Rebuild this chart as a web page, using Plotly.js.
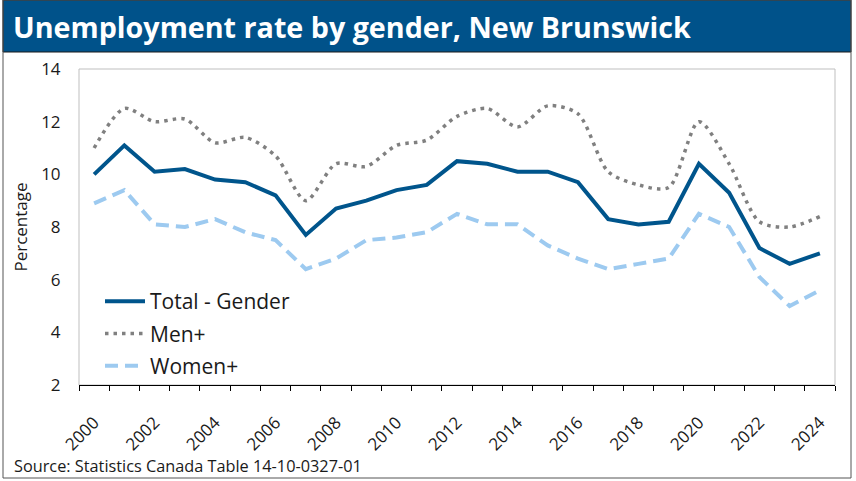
<!DOCTYPE html>
<html>
<head>
<meta charset="utf-8">
<script src="https://cdn.plot.ly/plotly-3.0.1.min.js"></script>
<style>html,body{margin:0;padding:0;background:#fff}#chart{width:856px;height:481px}</style>
</head>
<body>
<div id="chart"></div>
<script>
const years = [2000,2001,2002,2003,2004,2005,2006,2007,2008,2009,2010,2011,2012,2013,2014,2015,2016,2017,2018,2019,2020,2021,2022,2023,2024];
const totalGender = [10.0,11.1,10.1,10.2,9.8,9.7,9.2,7.7,8.7,9.0,9.4,9.6,10.5,10.4,10.1,10.1,9.7,8.3,8.1,8.2,10.4,9.3,7.2,6.6,7.0];
const menPlus = [11.0,12.5,12.0,12.1,11.2,11.4,10.7,9.0,10.4,10.3,11.1,11.3,12.2,12.5,11.8,12.6,12.3,10.1,9.6,9.5,12.0,10.4,8.2,8.0,8.4];
const womenPlus = [8.9,9.4,8.1,8.0,8.3,7.8,7.5,6.4,6.8,7.5,7.6,7.8,8.5,8.1,8.1,7.3,6.8,6.4,6.6,6.8,8.5,8.0,6.1,5.0,5.6];
const tickYears = [2000,2002,2004,2006,2008,2010,2012,2014,2016,2018,2020,2022,2024];
const seriesNames = ["Total - Gender","Men+","Women+"];
const chartTitle = "Unemployment rate by gender, New Brunswick";
const sourceText = "Source: Statistics Canada Table 14-10-0327-01";
const yTitle = "Percentage";

const FONT = '"Open Sans", "Noto Sans", sans-serif';
const L = 79, R = 835, T = 69, B = 385;
const W = R - L, H = B - T;
const px = x => (x - L) / W;
const py = y => (B - y) / H;

const traces = [
  {x: years, y: totalGender, name: seriesNames[0], legendgroup: 'g1', type: 'scatter', mode: 'lines',
   line: {color: '#00558C', width: 4}},
  {x: years, y: menPlus, name: seriesNames[1], legendgroup: 'g2', type: 'scatter', mode: 'lines',
   line: {color: '#808080', width: 3.5, dash: '3.5px,5px', shape: 'spline', smoothing: 0.8}},
  {x: years, y: womenPlus, name: seriesNames[2], legendgroup: 'g3', type: 'scatter', mode: 'lines',
   line: {color: '#9DCAF0', width: 4, dash: '13px,7px'}}
];

const layout = {
  width: 856, height: 481,
  margin: {l: L, r: 856 - R, t: T, b: 481 - B},
  paper_bgcolor: '#fff', plot_bgcolor: '#fff',
  font: {family: FONT, color: '#1a1a1a', size: 17},
  showlegend: true,
  legend: {x: px(100), y: py(281), xanchor: 'left', yanchor: 'top', itemwidth: 40,
    traceorder: 'grouped', tracegroupgap: 2,
    bgcolor: 'rgba(0,0,0,0)', font: {size: 21, color: '#1a1a1a'}},
  xaxis: {range: [1999.5, 2024.5], tickmode: 'array', tickvals: tickYears,
    ticktext: tickYears.map(String), tickangle: -45,
    ticks: 'outside', ticklen: 20, tickcolor: 'rgba(0,0,0,0)',
    showgrid: false, zeroline: false, showline: true, linecolor: '#000', linewidth: 1,
    tickfont: {size: 17, color: '#1a1a1a'},
    minor: {tickmode: 'linear', tick0: 1999.5, dtick: 1, ticks: 'outside', ticklen: 5, tickcolor: '#000', tickwidth: 1, showgrid: false}},
  yaxis: {range: [2, 14], dtick: 2, tick0: 2, showgrid: false, zeroline: false, showline: false,
    ticks: 'outside', ticklen: 14, tickcolor: 'rgba(0,0,0,0)',
    tickfont: {size: 17, color: '#1a1a1a'},
    title: {text: yTitle, font: {size: 17, color: '#1a1a1a'}, standoff: 9}},
  shapes: [
    {type: 'rect', xref: 'paper', yref: 'paper', x0: 0, x1: 1, y0: 0, y1: 1,
     line: {color: '#BFBFBF', width: 1}, fillcolor: 'rgba(0,0,0,0)', layer: 'below'},
    {type: 'rect', xref: 'paper', yref: 'paper', x0: px(3), x1: px(851), y0: py(478), y1: py(0),
     line: {color: '#555', width: 1}, fillcolor: 'rgba(0,0,0,0)'},
    {type: 'rect', xref: 'paper', yref: 'paper', x0: px(3), x1: px(851), y0: py(52), y1: py(0),
     line: {color: '#1a1a1a', width: 1}, fillcolor: '#00528A', layer: 'below'}
  ],
  annotations: [
    {text: '<b>' + chartTitle + '</b>', xref: 'paper', yref: 'paper', x: px(11), y: py(27),
     xanchor: 'left', yanchor: 'middle', showarrow: false, font: {size: 28.7, color: '#fff', family: FONT}},
    {text: sourceText, xref: 'paper', yref: 'paper', x: px(12), y: py(466),
     xanchor: 'left', yanchor: 'middle', showarrow: false, font: {size: 16.3, color: '#1a1a1a', family: FONT}}
  ]
};

Plotly.newPlot('chart', traces, layout, {displayModeBar: false, staticPlot: true});
</script>
</body>
</html>
